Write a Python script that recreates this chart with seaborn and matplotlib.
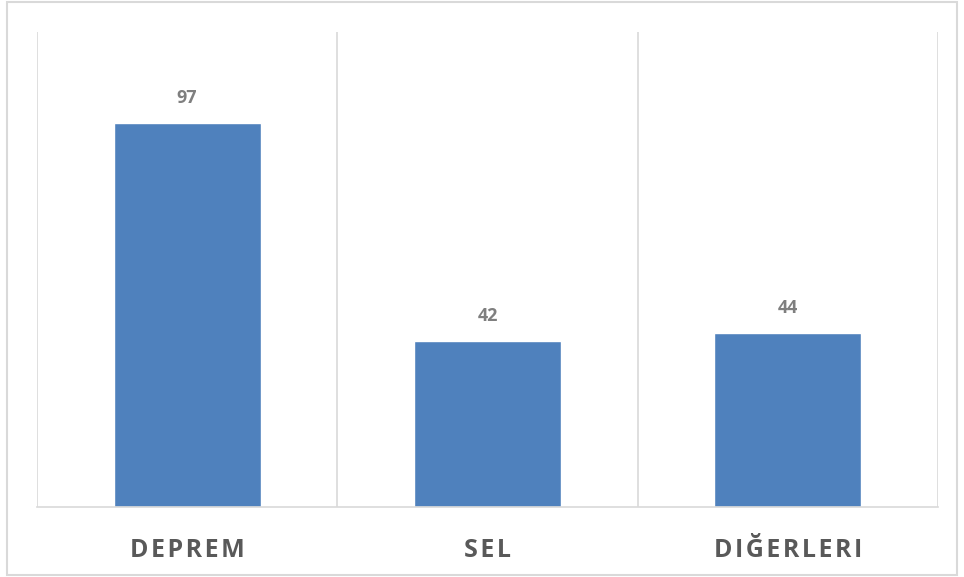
import matplotlib
matplotlib.use("Agg")
import matplotlib.pyplot as plt
import matplotlib.patches as mpatches
import seaborn as sns
import pandas as pd

# data
categories = ["DEPREM", "SEL", "DIĞERLERI"]
values = [97, 42, 44]

df = pd.DataFrame({"category": categories, "value": values})

sns.set_style("white")
plt.rcParams["font.family"] = ["Open Sans", "DejaVu Sans"]

fig = plt.figure(figsize=(9.64, 5.77), dpi=100)
ax = fig.add_axes([37 / 964, 70 / 577, 901 / 964, 475 / 577])

sns.barplot(data=df, x="category", y="value", color="#4f81bd", saturation=1,
            width=0.49, ax=ax)

ax.set_xlim(-0.5, 2.5)
ax.set_ylim(0, 120)
ax.set_xlabel("")
ax.set_ylabel("")
ax.set_yticks([])

# vertical separators between categories
for x in [-0.5, 0.5, 1.5, 2.5]:
    ax.axvline(x, color="#d9d9d9", lw=1.2, zorder=0)

for s in ["top", "left", "right"]:
    ax.spines[s].set_visible(False)
ax.spines["bottom"].set_color("#d9d9d9")
ax.spines["bottom"].set_linewidth(1.2)

# letter-spaced category labels
spaced = ["\u200a".join(c) for c in categories]
ax.set_xticks(range(len(categories)))
ax.set_xticklabels(spaced, fontsize=18, fontweight="bold", color="#595959")
ax.tick_params(axis="x", length=0, pad=22)

for i, v in enumerate(values):
    ax.text(i, v + 4, str(v), ha="center", va="bottom", fontsize=13,
            fontweight="bold", color="#7f7f7f")

# outer chart border
fig.patches.append(mpatches.Rectangle((7 / 964, 2 / 577), 950 / 964, 573 / 577,
                                      transform=fig.transFigure, fill=False,
                                      edgecolor="#d9d9d9", lw=1.5))

fig.savefig("out.png", dpi=100)
